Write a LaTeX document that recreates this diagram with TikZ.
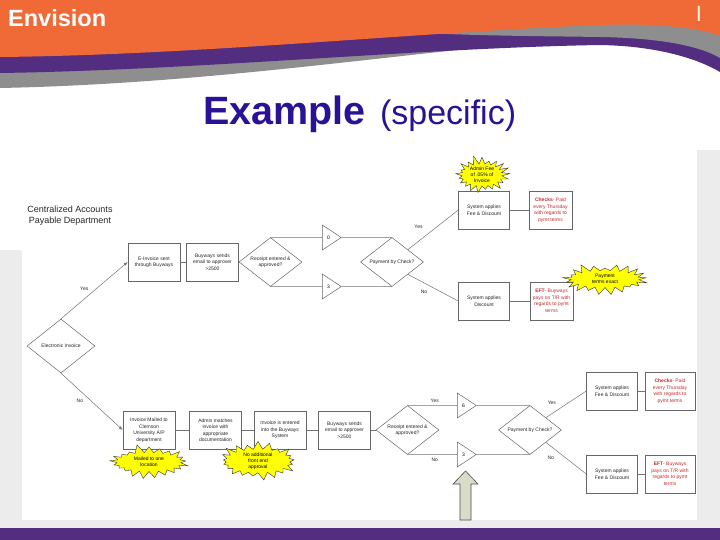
\documentclass[tikz,border=0pt]{standalone}
\usepackage{fontspec}
\setmainfont{Liberation Sans}
\usetikzlibrary{arrows.meta, calc, positioning, shapes.geometric, shapes.symbols}
\definecolor{cuorange}{RGB}{240,106,56}
\definecolor{cupurple}{RGB}{82,45,128}
\definecolor{swgray}{RGB}{142,142,142}
\definecolor{titleblue}{RGB}{42,18,150}
\definecolor{notered}{RGB}{200,40,40}
\definecolor{bggray}{RGB}{236,236,236}
\definecolor{burstyellow}{RGB}{255,255,0}
\definecolor{arrowfill}{RGB}{217,220,200}
\definecolor{cream}{RGB}{255,240,215}
\tikzset{
    box/.style={rectangle, draw=black!60, fill=white, line width=0.5pt, align=center,
        minimum width=52pt, minimum height=38pt, inner sep=1pt, text=black!85,
        font=\fontsize{5}{6.5}\selectfont},
    notebox/.style={box, minimum width=43pt, text=notered},
    decision/.style={diamond, aspect=1.3, draw=black!60, fill=white, line width=0.5pt,
        align=center, minimum width=63pt, minimum height=49pt, inner sep=0pt, text=black!85,
        font=\fontsize{5}{6.5}\selectfont},
    merge/.style={isosceles triangle, isosceles triangle stretches, draw=black!60, fill=white,
        line width=0.5pt, minimum width=25pt, minimum height=19pt, inner sep=0pt,
        font=\fontsize{5}{6}\selectfont},
    burst/.style={starburst, starburst points=21, starburst point height=9pt, draw=black!80,
        fill=burstyellow, line width=0.4pt, align=center, inner sep=0pt,
        font=\fontsize{5}{6}\selectfont},
    link/.style={draw=black!55, line width=0.5pt},
    arrow/.style={link, -{Latex[length=4pt, width=3pt]}},
    lbl/.style={font=\fontsize{5}{6}\selectfont, text=black!85, inner sep=1pt},
}
\begin{document}
\begin{tikzpicture}[x=1pt, y=-1pt]
    \useasboundingbox (0,0) rectangle (720,540);
    \fill[white] (0,0) rectangle (720,540);
    \fill[bggray] (0,250) rectangle (720,528);
    \fill[bggray] (697,150) rectangle (720,250);
    \fill[white] (22,150) rectangle (697,520);
    \fill[cupurple] (0,528) rectangle (720,540);
    \fill[swgray] (0,0) -- (0,88) .. controls (200,84) and (380,56) .. (520,44) -- (520,0) -- cycle;
    \fill[cupurple] (0,0) -- (0,73) .. controls (200,70) and (420,48) .. (600,45)
        .. controls (660,46) and (700,60) .. (720,72) -- (720,0) -- cycle;
    \fill[swgray] (380,0) -- (380,30) .. controls (450,36) and (540,36) .. (600,37)
        .. controls (660,38) and (700,46) .. (720,58) -- (720,0) -- cycle;
    \fill[cuorange] (0,0) -- (0,57) .. controls (200,55) and (420,32) .. (600,25)
        .. controls (660,23) and (700,28) .. (720,36) -- (720,0) -- cycle;

    \node[anchor=west, inner sep=0pt, text=white, font=\fontsize{23.5}{26}\selectfont\bfseries] (env) at (8,18) {Envision};
    \node[inner sep=0pt, text=cream, font=\fontsize{22}{24}\selectfont] (mark) at (699,14) {I};
    \node[anchor=base west, inner sep=0pt, text=titleblue, font=\fontsize{39.5}{44}\selectfont\bfseries] (ttl) at (203,125) {Example};
    \node[base right=14pt of ttl, inner sep=0pt, text=titleblue, font=\fontsize{34}{38}\selectfont] (spec) {(specific)};

    \node[align=center, text=black!85, font=\fontsize{9}{11}\selectfont] (cap) at (70,216) {Centralized Accounts\\Payable Department};

    \node[decision, minimum width=68pt, minimum height=54pt] (ei) at (61,346) {Electronic Invoice};

    \node[box] (einv) at (154,262) {E-Invoice sent\\through Buyways};
    \node[box, right=6pt of einv] (bw1) {Buyways sends\\email to approver\\>2500};
    \node[decision, right=0pt of bw1] (rec1) {Receipt entered \&\\approved?};
    \node[merge, anchor=west] (t0) at (322,237.5) {0};
    \node[merge, anchor=west] (t3) at (322,286.5) {3};
    \node[decision] (pay1) at (392,262) {Payment by Check?};
    \node[box, minimum width=51pt] (sysA) at (484,210) {System applies\\Fee \& Discount};
    \node[notebox, right=19pt of sysA] (chkA) {\textbf{Checks}- Paid\\every Thursday\\with regards to\\pymt terms};
    \node[box, minimum width=51pt] (sysB) at (484,301) {System applies\\Discount};
    \node[notebox, right=20pt of sysB] (eftA) {\textbf{EFT}- Buyways\\pays on T/R with\\regards to pymt\\terms};
    \node[burst, minimum width=58pt, minimum height=33pt, random starburst=11] (fee) at (482,175) {Admin Fee\\of .05\% of\\Invoice};
    \node[burst, minimum width=86pt, minimum height=35pt, random starburst=23] (exact) at (605,279) {Payment\\terms exact};

    \node[box] (mail) at (149,430) {Invoice Mailed to\\Clemson\\University A/P\\department};
    \node[box, right=14pt of mail] (match) {Admin matches\\invoice with\\appropriate\\documentation};
    \node[box, right=12pt of match] (enter) {Invoice is entered\\into the Buyways\\System};
    \node[box, right=12pt of enter] (bw2) {Buyways sends\\email to approver\\>2500};
    \node[decision, right=5pt of bw2] (rec2) {Receipt entered \&\\approved?};
    \node[merge, anchor=west] (t6) at (457,405.5) {6};
    \node[merge, anchor=west] (t3b) at (457,454.5) {3};
    \node[decision] (pay2) at (530,430) {Payment by Check?};
    \node[box, minimum width=51pt] (sysC) at (612,391) {System applies\\Fee \& Discount};
    \node[notebox, minimum width=50pt, right=7pt of sysC] (chkB) {\textbf{Checks}- Paid\\every Thursday\\with regards to\\pymt terms};
    \node[box, minimum width=51pt] (sysD) at (612,474) {System applies\\Fee \& Discount};
    \node[notebox, minimum width=50pt, right=7pt of sysD] (eftB) {\textbf{EFT}- Buyways\\pays on T/R with\\regards to pymt\\terms};
    \node[burst, minimum width=82pt, minimum height=37pt, random starburst=5] (one) at (149,462) {Mailed to one\\location};
    \node[burst, minimum width=82pt, minimum height=37pt, random starburst=17] (front) at (258,461) {No additional\\front end\\approval};

    \draw[arrow] (ei.north) -- node[lbl, pos=0.45, above left=2pt] {Yes} (einv.west);
    \draw[arrow] (ei.south) -- node[lbl, pos=0.4, below left=2pt] {No} (mail.west);
    \draw[link] (einv) -- (bw1);
    \draw[link] (rec1.north) -- (t0.west);
    \draw[link] (rec1.south) -- (t3.west);
    \draw[link] (t0.apex) -- (pay1.north);
    \draw[link] (t3.apex) -- (pay1.south);
    \draw[link] (pay1.north east) -- node[lbl, pos=0.4, above left=6pt] {Yes} (sysA.west);
    \draw[link] (pay1.south east) -- node[lbl, pos=0.45, below left=3pt] {No} (sysB.west);
    \draw[link] (sysA) -- (chkA);
    \draw[link] (sysB) -- (eftA);
    \draw[link] (mail) -- (match);
    \draw[link] (match) -- (enter);
    \draw[link] (enter) -- (bw2);
    \draw[link] (bw2) -- (rec2);
    \draw[link] (rec2.north) -- node[lbl, pos=0.55, above=2pt] {Yes} (t6.west);
    \draw[link] (rec2.south) -- node[lbl, pos=0.55, below=2pt] {No} (t3b.west);
    \draw[link] (t6.apex) -- (pay2.north);
    \draw[link] (t3b.apex) -- (pay2.south);
    \draw[link] (pay2.north east) -- node[lbl, pos=0.35, above left=4pt] {Yes} (sysC.west);
    \draw[link] (pay2.south east) -- node[lbl, pos=0.3, below left=4pt] {No} (sysD.west);
    \draw[link] (sysC) -- (chkB);
    \draw[link] (sysD) -- (eftB);

    \filldraw[fill=arrowfill, draw=black!70, line width=0.6pt] (460,520) -- (460,484) -- (453,484) -- (465.5,471)
        -- (478,484) -- (471,484) -- (471,520) -- cycle;
\end{tikzpicture}
\end{document}
